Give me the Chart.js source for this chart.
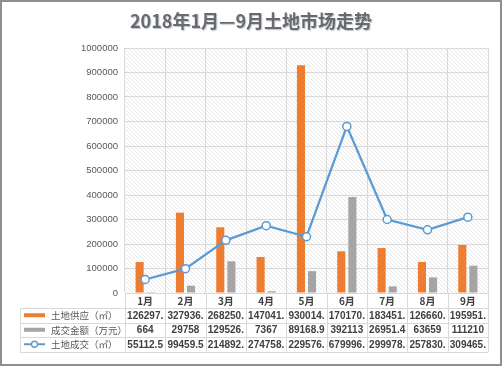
<!DOCTYPE html>
<html>
<head>
<meta charset="utf-8">
<script src="https://cdn.jsdelivr.net/npm/chart.js@4"></script>
<style>
  body { margin: 0; background: #fff; }
  #wrap { width: 502px; height: 366px; box-sizing: border-box; border: 2px solid #8f8f8f; background: #fff; }
  canvas { display: block; }
</style>
</head>
<body>
<div id="wrap"><canvas id="myCanvas" width="498" height="362"></canvas></div>
<script>
const months = ['1月', '2月', '3月', '4月', '5月', '6月', '7月', '8月', '9月']
const landSupply = [126297.5, 327936.5, 268250.5, 147041.5, 930014.5, 170170.5, 183451.5, 126660.5, 195951.5]
const dealAmount = [664, 29758, 129526.5, 7367, 89168.9, 392113, 26951.4, 63659, 111210]
const landDeal = [55112.5, 99459.5, 214892.5, 274758.5, 229576.5, 679996.5, 299978.5, 257830.5, 309465.5]
const seriesNames = ['土地供应（㎡）', '成交金额（万元）', '土地成交（㎡）']
const chartTitle = '2018年1月—9月土地市场走势'

const ORANGE = '#ED7D31'
const GRAY = '#A5A5A5'
const BLUE = '#5B9BD5'
const GRID = '#d9d9d9'

// hatched plot background + title
const backdrop = {
  id: 'backdrop',
  beforeDraw(chart) {
    const { ctx, chartArea: a } = chart
    const p = document.createElement('canvas')
    p.width = 4; p.height = 4
    const pc = p.getContext('2d')
    pc.strokeStyle = '#e8e8e8'
    pc.lineWidth = 1
    pc.beginPath()
    pc.moveTo(-1, -1); pc.lineTo(5, 5)
    pc.moveTo(3, -1); pc.lineTo(5, 1)
    pc.moveTo(-1, 3); pc.lineTo(1, 5)
    pc.stroke()
    ctx.save()
    ctx.fillStyle = ctx.createPattern(p, 'repeat')
    ctx.fillRect(a.left, a.top, a.right - a.left, a.bottom - a.top)
    ctx.restore()

    ctx.save()
    ctx.font = 'bold 18px "Noto Sans CJK SC", sans-serif'
    ctx.textAlign = 'center'
    ctx.textBaseline = 'middle'
    ctx.shadowColor = 'rgba(60,80,120,0.35)'
    ctx.shadowOffsetX = 1
    ctx.shadowOffsetY = 1
    ctx.shadowBlur = 1
    ctx.fillStyle = '#6a6a6a'
    ctx.fillText(chartTitle, chart.width / 2, 19)
    ctx.restore()
  }
}

// Excel style data table under the plot
const dataTable = {
  id: 'dataTable',
  afterDraw(chart) {
    const { ctx, chartArea: a, scales: { x } } = chart
    const colW = (a.right - a.left) / months.length
    const top = a.bottom
    const rows = [top, top + 15, top + 29.5, top + 44, top + 58.5]
    const left = 18
    const series = [landSupply, dealAmount, landDeal]

    ctx.save()
    ctx.strokeStyle = GRID
    ctx.lineWidth = 1
    ctx.beginPath()
    for (let r = 1; r < rows.length; r++) {
      const y = Math.round(rows[r]) + 0.5
      ctx.moveTo(left, y); ctx.lineTo(a.right, y)
    }
    for (let i = 0; i <= months.length; i++) {
      const xx = Math.round(a.left + i * colW) + 0.5
      ctx.moveTo(xx, top); ctx.lineTo(xx, rows[4])
    }
    ctx.moveTo(left + 0.5, rows[1]); ctx.lineTo(left + 0.5, rows[4])
    ctx.stroke()

    ctx.textAlign = 'center'
    ctx.textBaseline = 'middle'
    ctx.fillStyle = '#404040'
    ctx.font = 'bold 10px "Noto Sans CJK SC", sans-serif'
    months.forEach((m, i) => {
      ctx.fillText(m, x.getPixelForValue(i), (rows[0] + rows[1]) / 2 + 1)
    })
    ctx.font = 'bold 10px "Liberation Sans", sans-serif'
    series.forEach((vals, s) => {
      const cy = (rows[s + 1] + rows[s + 2]) / 2 + 0.5
      vals.forEach((v, i) => {
        ctx.fillText(String(v).slice(0, 7), x.getPixelForValue(i), cy)
      })
    })

    // legend keys + names
    series.forEach((vals, s) => {
      const cy = (rows[s + 1] + rows[s + 2]) / 2
      if (s < 2) {
        ctx.fillStyle = s === 0 ? ORANGE : GRAY
        ctx.fillRect(22, cy - 2, 21, 4)
      } else {
        ctx.strokeStyle = BLUE
        ctx.lineWidth = 2
        ctx.beginPath(); ctx.moveTo(22, cy); ctx.lineTo(43, cy); ctx.stroke()
        ctx.beginPath(); ctx.arc(32.5, cy, 3, 0, Math.PI * 2)
        ctx.fillStyle = '#fff'; ctx.fill()
        ctx.lineWidth = 1.3; ctx.stroke()
      }
      ctx.fillStyle = '#595959'
      ctx.textAlign = 'left'
      ctx.font = '9.5px "Noto Sans CJK SC", sans-serif'
      ctx.fillText(seriesNames[s], 49, cy + 0.5)
    })
    ctx.restore()
  }
}

const context = document.getElementById('myCanvas').getContext('2d')

new Chart(context, {
  data: {
    labels: months,
    datasets: [
      {
        type: 'line',
        label: seriesNames[2],
        data: landDeal,
        borderColor: BLUE,
        borderWidth: 2.25,
        pointRadius: 4,
        pointBorderWidth: 1.5,
        pointBackgroundColor: '#fff',
        pointBorderColor: BLUE,
        tension: 0,
        order: 0
      },
      {
        type: 'bar',
        label: seriesNames[0],
        data: landSupply,
        backgroundColor: ORANGE,
        categoryPercentage: 0.55,
        barPercentage: 0.73,
        order: 1
      },
      {
        type: 'bar',
        label: seriesNames[1],
        data: dealAmount,
        backgroundColor: GRAY,
        categoryPercentage: 0.55,
        barPercentage: 0.73,
        order: 1
      }
    ]
  },
  options: {
    responsive: false,
    animation: false,
    layout: { padding: { top: 46, right: 12, left: 0, bottom: 0 } },
    plugins: {
      legend: { display: false },
      title: { display: false },
      tooltip: { enabled: false }
    },
    scales: {
      x: {
        offset: true,
        grid: { color: GRID, offset: true, drawTicks: false },
        border: { display: false },
        ticks: { display: false },
        afterFit: (s) => { s.height = 71 }
      },
      y: {
        min: 0,
        max: 1000000,
        grid: { color: GRID, drawTicks: false },
        border: { display: false },
        ticks: {
          stepSize: 100000,
          padding: 7,
          color: '#595959',
          font: { family: 'Liberation Sans', size: 9.5 },
          callback: (v) => String(v)
        },
        afterFit: (s) => { s.width = 123 }
      }
    }
  },
  plugins: [backdrop, dataTable]
})
</script>
</body>
</html>
